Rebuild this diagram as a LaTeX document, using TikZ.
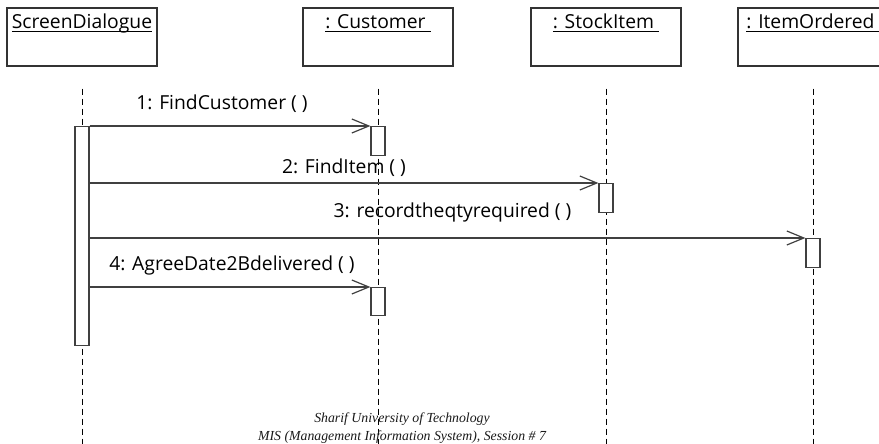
\documentclass[tikz,border=0pt]{standalone}
\usepackage{fontspec}
\setmainfont{Liberation Serif}
\newfontfamily\umlfont{Open Sans}
\usetikzlibrary{arrows.meta,positioning}

% object names are underlined at one fixed depth
\newcommand{\objname}[1]{\underline{\raisebox{0pt}[\height][1.2pt]{#1}}}

\begin{document}
\begin{tikzpicture}[x=1pt, y=-1pt,
    font=\umlfont\fontsize{19.3}{22}\selectfont,
    objbox/.style={draw=black!80, line width=1.2pt, minimum width=150pt, minimum height=58pt, inner sep=0pt},
    objtitle/.style={anchor=base, yshift=-21pt, inner sep=0pt},
    lifeline/.style={draw=black, line width=1pt, dash pattern=on 6pt off 4pt},
    actbar/.style={draw=black!75, line width=1.2pt, fill=white, minimum width=14pt, inner sep=0pt, anchor=north},
    msg/.style={draw=black!75, line width=1.2pt, -{Straight Barb[length=17pt,width=14pt,line width=1.2pt]}},
    msglabel/.style={anchor=base, inner sep=0pt},
    footer/.style={anchor=base, inner sep=0pt, font=\itshape\fontsize{13.8}{19}\selectfont, text=black!90}]
  \useasboundingbox (0,0) rectangle (879,444);

  % objects
  \node[objbox, label={[objtitle]north:\objname{ScreenDialogue}}] (sd) at (82,37) {};
  \node[objbox, label={[objtitle]north:\objname{: Customer\ }}] (cu) at (378,37) {};
  \node[objbox, label={[objtitle]north:\objname{: StockItem\ }}] (si) at (606,37) {};
  \node[objbox, label={[objtitle]north:\objname{: ItemOrdered\ }}] (io) at (813,37) {};

  % lifelines
  \coordinate (bottom) at (0,444);
  \foreach \o in {sd,cu,si,io}
    \draw[lifeline] ([yshift=-22pt]\o.south) -- (\o.south |- bottom);

  % activations
  \node[actbar, minimum height=219pt] (sdact) at (82,126) {};
  \node[actbar, minimum height=29pt] (cuact1) at (378,126) {};
  \node[actbar, minimum height=29pt] (siact) at (606,183) {};
  \node[actbar, minimum height=29pt] (ioact) at (813,238) {};
  \node[actbar, minimum height=28pt] (cuact2) at (378,287) {};

  % messages
  \draw[msg] (sdact.east |- cuact1.north) -- (cuact1.north west)
    node[msglabel, midway, xshift=-8pt, yshift=16pt] (m1) {1: FindCustomer ( )};
  \draw[msg] (sdact.east |- siact.north) -- (siact.north west)
    node[msglabel, midway, yshift=10pt] (m2) {2: FindItem ( )};
  \draw[msg] (sdact.east |- ioact.north) -- (ioact.north west)
    node[msglabel, midway, xshift=5pt, yshift=21pt] (m3) {3: recordtheqtyrequired ( )};
  \draw[msg] (sdact.east |- cuact2.north) -- (cuact2.north west)
    node[msglabel, midway, xshift=2pt, yshift=17pt] (m4) {4: AgreeDate2Bdelivered ( )};

  % footer
  \node[footer] (uni) at (402,422) {Sharif University of Technology};
  \node[footer] (course) at (402,440) {MIS (Management Information System), Session \# 7};
\end{tikzpicture}
\end{document}
